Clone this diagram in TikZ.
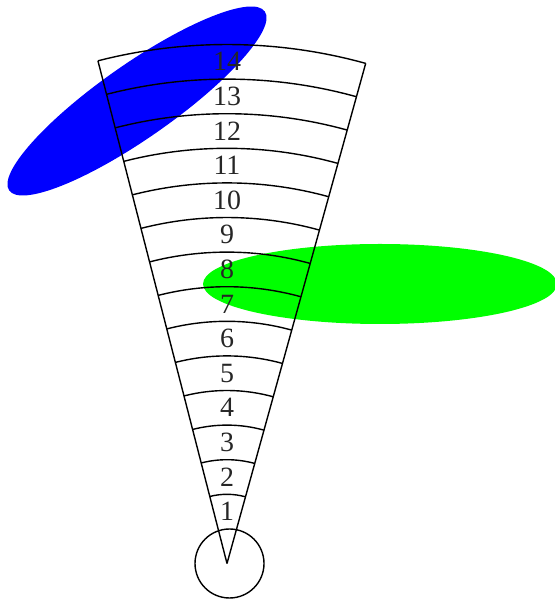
\documentclass[tikz,border=0pt]{standalone}
\usepackage{fontspec}
\setmainfont{Liberation Serif}
\usetikzlibrary{calc}
\begin{document}
\begin{tikzpicture}[x=1bp,y=1bp,
  ringline/.style={draw=black,line width=1.4bp},
  lab/.style={font=\fontsize{28}{30}\selectfont,text=black!85,inner sep=0pt}]
\useasboundingbox (0,0) rectangle (555,599);
% ellipses (behind the wedge)
\fill[blue,rotate around={35:(137,498)}] (137,498) ellipse[x radius=156,y radius=37];
\fill[green] (380,315) ellipse[x radius=177,y radius=40];
% wedge
\coordinate (O) at (227,35.5);
\coordinate (C) at (229.5,35.5);
\draw[ringline] (C) circle[radius=34.5];
\coordinate (L) at ($(O)+(104.4:519)$);
\coordinate (R) at ($(O)+(74.5:519)$);
\draw[ringline] (O) -- (L);
\draw[ringline] (O) -- (R);
\foreach \k in {2,...,15}{
  \draw[ringline] ($(O)+(74.5:{\k*34.6})$) arc[start angle=74.5,end angle=104.4,radius={\k*34.6}];
}
\foreach \k in {1,...,14}{
  \node[lab] (l\k) at ($(O)+(90:{(\k+0.5)*34.6})$) {\k};
}
\end{tikzpicture}
\end{document}
